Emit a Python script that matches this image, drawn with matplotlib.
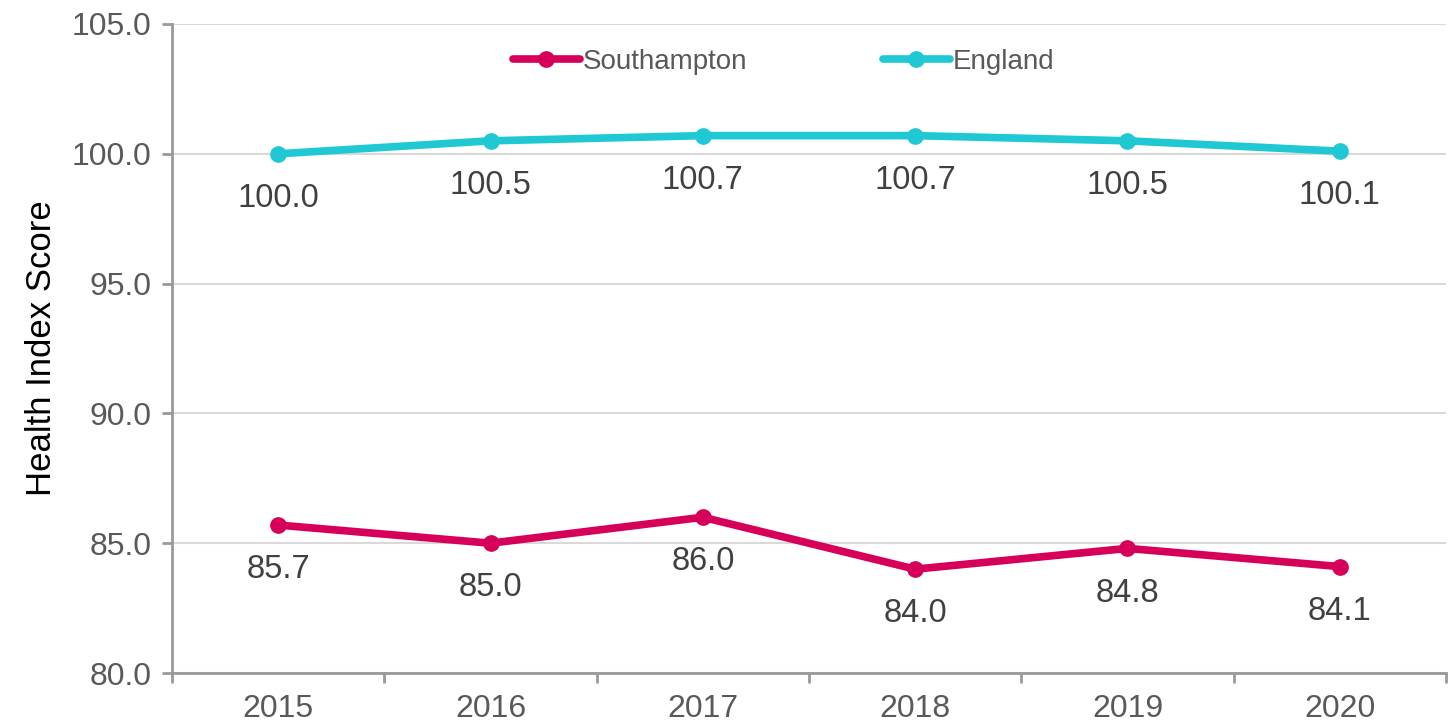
import matplotlib
matplotlib.use("Agg")
import matplotlib.pyplot as plt
import numpy as np

years = ["2015", "2016", "2017", "2018", "2019", "2020"]
southampton = [85.7, 85.0, 86.0, 84.0, 84.8, 84.1]
england = [100.0, 100.5, 100.7, 100.7, 100.5, 100.1]

plt.rcParams['font.family'] = ['Liberation Sans', 'DejaVu Sans']
txt = '#595959'
c_s = '#D6005A'
c_e = '#1FC8D3'

fig = plt.figure(figsize=(14.48, 7.25), dpi=100)
ax = fig.add_axes([0.1188, 0.0717, 0.8798, 0.8952])
x = np.arange(len(years))

ax.plot(x, southampton, color=c_s, lw=5.5, marker='o', ms=11, label='Southampton', solid_capstyle='round')
ax.plot(x, england, color=c_e, lw=5.5, marker='o', ms=11, label='England', solid_capstyle='round')

for xi, v in zip(x, southampton):
    ax.annotate(f"{v:.1f}", (xi, v), xytext=(0, -21), textcoords='offset points',
                ha='center', va='top', fontsize=23.5, color='#404040')
for xi, v in zip(x, england):
    ax.annotate(f"{v:.1f}", (xi, v), xytext=(0, -21), textcoords='offset points',
                ha='center', va='top', fontsize=23.5, color='#404040')

ax.set_ylim(80, 105)
ax.set_xlim(-0.5, 5.5)
ax.set_yticks(np.arange(80, 105.1, 5))
ax.set_yticklabels([f"{v:.1f}" for v in np.arange(80, 105.1, 5)])
ax.set_xticks(x)
ax.set_xticklabels(years)
ax.set_xticks(np.arange(-0.5, 5.6, 1), minor=True)
ax.tick_params(axis='x', which='major', length=0, labelsize=23, labelcolor=txt, pad=15)
ax.tick_params(axis='x', which='minor', length=7, width=2, color='#999999')
ax.tick_params(axis='y', length=7, width=2, color='#999999', labelsize=23, labelcolor=txt, pad=8)

ax.grid(axis='y', color='#D9D9D9', lw=1.5)
ax.set_axisbelow(True)
for s in ['top', 'right']:
    ax.spines[s].set_visible(False)
for s in ['left', 'bottom']:
    ax.spines[s].set_color('#999999')
    ax.spines[s].set_linewidth(2)

ax.set_ylabel('Health Index Score', fontsize=25, color='black', labelpad=10)

leg = ax.legend(loc='upper center', bbox_to_anchor=(0.48, 1.0), ncol=2, frameon=False,
                fontsize=20, handlelength=2.4, handletextpad=0.1, columnspacing=4.9,
                labelcolor=txt)

fig.savefig('out.png', dpi=100)
